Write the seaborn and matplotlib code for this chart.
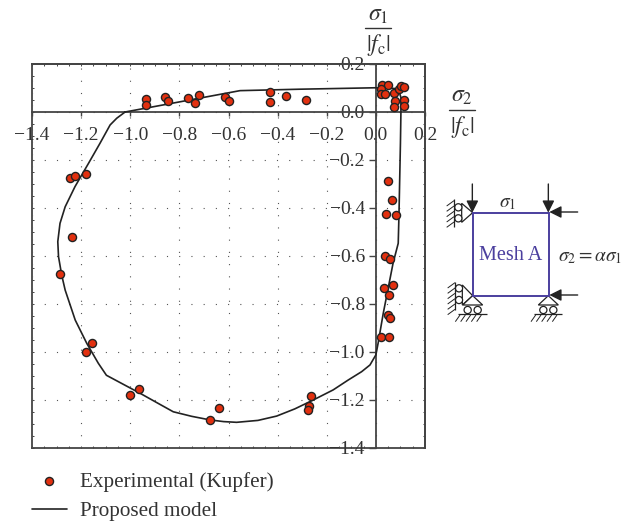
import matplotlib
matplotlib.use("Agg")
import matplotlib.pyplot as plt
import seaborn as sns
import pandas as pd
import numpy as np
from matplotlib.patches import Polygon, Circle

# ---------- data ----------
exp_x = [-0.937, -0.937, -0.860, -0.847, -0.765, -0.736, -0.721, -0.614, -0.598,
         -0.431, -0.431, -0.366, -0.283,
         0.026, 0.049, 0.020, 0.020, 0.039, 0.072, 0.094, 0.102, 0.114, 0.113,
         0.079, 0.114, 0.072, 0.049, 0.064, 0.043, 0.083,
         0.037, 0.057, 0.033, 0.069, 0.053, 0.049, 0.057, 0.020, 0.053,
         -1.244, -1.223, -1.180, -1.237, -1.286, -1.154, -1.180,
         -1.003, -0.964, -0.674, -0.639, -0.263, -0.273, -0.278]
exp_y = [0.053, 0.028, 0.064, 0.047, 0.060, 0.038, 0.072, 0.063, 0.046,
         0.084, 0.042, 0.067, 0.052,
         0.114, 0.114, 0.097, 0.074, 0.074, 0.079, 0.094, 0.107, 0.103, 0.049,
         0.045, 0.024, 0.022, -0.286, -0.365, -0.424, -0.429,
         -0.600, -0.612, -0.733, -0.721, -0.763, -0.846, -0.858, -0.938, -0.938,
         -0.273, -0.267, -0.258, -0.521, -0.675, -0.963, -1.000,
         -1.179, -1.154, -1.282, -1.233, -1.183, -1.224, -1.243]

model_x = [-1.021, -0.553, -0.309, 0.000, 0.077, 0.095, 0.102, 0.102, 0.100, 0.094, 0.091,
           0.070, 0.030, 0.009, 0.000, -0.024, -0.058, -0.113, -0.174, -0.255, -0.330, -0.404,
           -0.480, -0.567, -0.620, -0.675, -0.750, -0.825, -0.890, -0.960, -1.097, -1.130,
           -1.177, -1.224, -1.265, -1.279, -1.292, -1.295, -1.286, -1.265, -1.225, -1.170,
           -1.123, -1.082, -1.055, -1.021]
model_y = [0.000, 0.089, 0.095, 0.101, 0.098, 0.085, 0.060, 0.000, -0.130, -0.430, -0.547,
           -0.630, -0.839, -0.964, -1.012, -1.054, -1.082, -1.117, -1.158, -1.200, -1.237, -1.267,
           -1.285, -1.293, -1.290, -1.283, -1.268, -1.249, -1.212, -1.172, -1.097, -1.047,
           -0.964, -0.867, -0.742, -0.680, -0.603, -0.540, -0.464, -0.395, -0.311, -0.214,
           -0.130, -0.054, -0.026, 0.000]

x_ticks = [-1.4, -1.2, -1.0, -0.8, -0.6, -0.4, -0.2, 0.0, 0.2]
y_ticks = [0.2, 0.0, -0.2, -0.4, -0.6, -0.8, -1.0, -1.2, -1.4]

df_exp = pd.DataFrame({"x": exp_x, "y": exp_y})
df_model = pd.DataFrame({"x": model_x, "y": model_y})

# ---------- style ----------
sns.set_theme(style="white")
plt.rcParams["font.family"] = ["Liberation Serif", "DejaVu Serif"]
plt.rcParams["mathtext.fontset"] = "stix"
INK = "#333333"
FRAME = "#444444"
PURPLE = "#4b3f9e"

W, H = 637, 524
fig = plt.figure(figsize=(W / 100, H / 100), dpi=100)
ax = fig.add_axes([32 / W, (H - 448) / H, 393 / W, 384 / H])

# ---------- marks ----------
sns.lineplot(data=df_model, x="x", y="y", sort=False, estimator=None, color="#222222",
             lw=1.2, ax=ax, label="Proposed model", zorder=3)
sns.scatterplot(data=df_exp, x="x", y="y", color="#e2300f", edgecolor="#222222",
                linewidth=1.0, s=34, ax=ax, label="Experimental (Kupfer)", zorder=4)

ax.set_xlim(-1.4, 0.2)
ax.set_ylim(-1.4, 0.2)
ax.set_xlabel("")
ax.set_ylabel("")

# ---------- axes through zero, frame round the outside ----------
ax.spines["bottom"].set_position("zero")
ax.spines["left"].set_position("zero")
for s in ax.spines.values():
    s.set_visible(True)
    s.set_color(FRAME)
    s.set_linewidth(1.3)

ax.set_xticks(x_ticks)
ax.set_yticks(y_ticks)
ax.tick_params(axis="x", direction="out", length=3, width=1, color=FRAME, pad=7.5,
               labelsize=14, labelcolor=INK, bottom=True)
ax.tick_params(axis="y", direction="out", length=5, width=1, color=FRAME, pad=3,
               labelsize=14, labelcolor=INK, left=True)
ax.grid(True, color="#555555", lw=0.8, linestyle=(0, (1, 10)))
ax.set_axisbelow(True)

minor = np.arange(-1.4, 0.2001, 0.05)
for loc, is_x in [(0, True), (1, True), (0, False), (1, False)]:
    sec = ax.secondary_xaxis(loc) if is_x else ax.secondary_yaxis(loc)
    sec.set_xticks(minor) if is_x else sec.set_yticks(minor)
    sec.tick_params(direction="in", length=1.5, width=0.7, color=FRAME,
                    labelbottom=False, labeltop=False, labelleft=False, labelright=False)
    for s in sec.spines.values():
        s.set_color(FRAME)
        s.set_linewidth(1.3)

# legend, scatter first
h, l = ax.get_legend_handles_labels()
order = [l.index("Experimental (Kupfer)"), l.index("Proposed model")]
leg = ax.legend([h[i] for i in order], [l[i] for i in order], loc="upper left",
                bbox_to_anchor=(32 / W, (H - 472) / H), bbox_transform=fig.transFigure,
                frameon=False, fontsize=15.2, labelcolor=INK, handlelength=1.65,
                handletextpad=0.62, labelspacing=0.45, borderpad=0, borderaxespad=0)

# ---------- overlay in picture pixels for labels and the small diagram ----------
ov = fig.add_axes([0, 0, 1, 1], zorder=5)
ov.set_xlim(0, W)
ov.set_ylim(H, 0)
ov.axis("off")

# fraction labels on the two axes
for cx, top, bar, bot, name in [(378, 16, 28, 45, r"$\sigma_1$"), (462, 97, 110, 127, r"$\sigma_2$")]:
    ov.text(cx, top, name, fontsize=17, color=INK, ha="center", va="center")
    ov.plot([cx - 13, cx + 13], [bar, bar], color=INK, lw=1.0)
    ov.text(cx, bot, r"$|f_{\mathrm{c}}|$", fontsize=17, color=INK, ha="center", va="center")


def zx(v):
    return 430 + v / 3


def zy(v):
    return 170 + v / 3


def seg(x0, y0, x1, y1, lw=0.9, c="#222222"):
    ov.plot([zx(x0), zx(x1)], [zy(y0), zy(y1)], color=c, lw=lw, solid_capstyle="butt")


def arrow(x0, y0, x1, y1):
    ov.annotate("", xy=(zx(x1), zy(y1)), xytext=(zx(x0), zy(y0)),
                arrowprops=dict(arrowstyle="-|>,head_length=0.6,head_width=0.3", color="#222222",
                                lw=1.0, shrinkA=0, shrinkB=0))


def tri(pts):
    ov.add_patch(Polygon([(zx(a), zy(b)) for a, b in pts], closed=True, fc="white", ec="#222222", lw=0.9))


def roller(x, y):
    ov.add_patch(Circle((zx(x), zy(y)), 3.6, fc="white", ec="#222222", lw=0.9))


# mesh square
ov.add_patch(Polygon([(zx(130), zy(128)), (zx(357), zy(128)), (zx(357), zy(377)), (zx(130), zy(377))],
                     closed=True, fc="none", ec=PURPLE, lw=1.4, zorder=2))

# left rollers, top
tri([(128, 128), (95, 100), (95, 157)])
roller(85, 112)
roller(85, 145)
seg(72, 88, 72, 172)
for yy in range(92, 172, 16):
    seg(72, yy, 50, yy + 16, lw=0.7)

# left rollers, bottom
tri([(128, 377), (97, 345), (97, 405)])
roller(87, 355)
roller(87, 390)
seg(75, 335, 75, 420)
for yy in range(338, 420, 16):
    seg(75, yy, 53, yy + 16, lw=0.7)

# ground rollers
for xc in [128, 355]:
    tri([(xc, 377), (xc - 30, 405), (xc + 30, 405)])
    roller(xc - 15, 420)
    roller(xc + 15, 420)
    seg(xc - 43, 433, xc + 42, 433)
    for xx in range(xc - 38, xc + 42, 16):
        seg(xx, 435, xx - 14, 455, lw=0.7)

# load arrows
arrow(127, 42, 127, 128)
arrow(355, 42, 355, 128)
arrow(443, 126, 358, 126)
arrow(443, 375, 358, 375)

ov.text(508, 203, r"$\sigma_1$", fontsize=14, color=INK, ha="center", va="center")
ov.text(511, 255, "Mesh A", fontsize=14.5, color=PURPLE, ha="center", va="center")
ov.text(590, 257, r"$\sigma_2 = \alpha\sigma_1$", fontsize=14, color=INK, ha="center", va="center")

fig.savefig("out.png", dpi=100)
